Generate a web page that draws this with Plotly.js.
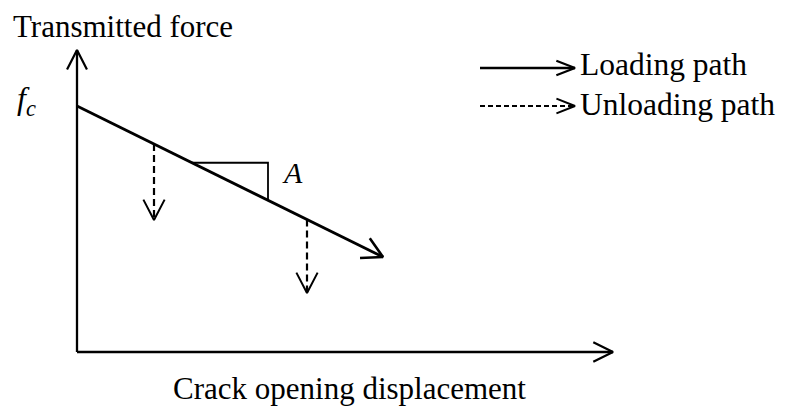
<!DOCTYPE html>
<html>
<head>
<meta charset="utf-8">
<script src="https://cdn.plot.ly/plotly-3.0.1.min.js"></script>
<style>html,body{margin:0;padding:0;background:#fff}#chart{width:788px;height:408px}</style>
</head>
<body>
<div id="chart"></div>
<script>
// Schematic values (origin at the axes corner, arbitrary units)
var fc = 246;                       // intercept on force axis
var loadingX = [0, 306];            // loading path
var loadingY = [fc, 95];
var unloadX = [77, 230];            // positions where unloading starts
var unloadEndY = [132, 59];         // unloading end force
var slopeX = [115, 191];            // slope triangle horizontal extent
var axisMaxX = 536;                 // length of displacement axis
var axisMaxY = 302;                 // length of force axis
var legendX = [403, 498];           // legend sample lines
var legendY = [284, 246];
var labels = {
  yTitle: "Transmitted force",
  xTitle: "Crack opening displacement",
  fc: "<i>f<sub>c</sub></i>",
  slope: "<i>A</i>",
  loading: "Loading path",
  unloading: "Unloading path"
};

function lineY(x) {
  return loadingY[0] + (loadingY[1] - loadingY[0]) * (x - loadingX[0]) / (loadingX[1] - loadingX[0]);
}
// open "V" arrowhead at (x1,y1) pointing from (x0,y0)
function head(x0, y0, x1, y1, len, ang) {
  var dx = x0 - x1, dy = y0 - y1, d = Math.sqrt(dx*dx + dy*dy);
  dx /= d; dy /= d;
  var c = Math.cos(ang), s = Math.sin(ang);
  var ax = x1 + len * (dx*c - dy*s), ay = y1 + len * (dx*s + dy*c);
  var bx = x1 + len * (dx*c + dy*s), by = y1 + len * (-dx*s + dy*c);
  return {x: [ax, x1, bx], y: [ay, y1, by]};
}
var traces = [];
function addLine(x, y, w, dash) {
  traces.push({x: x, y: y, mode: "lines", type: "scatter", hoverinfo: "skip",
    line: {color: "#000", width: w, dash: dash || "solid"}, showlegend: false});
}
// axes
addLine([0, 0], [0, axisMaxY], 2.3);
var h = head(0, 0, 0, axisMaxY, 22, 0.47); addLine(h.x, h.y, 2.2);
addLine([0, axisMaxX], [0, 0], 2.3);
h = head(0, 0, axisMaxX, 0, 22, 0.46); addLine(h.x, h.y, 2.2);
// loading path
addLine(loadingX, loadingY, 2.8);
h = head(loadingX[0], loadingY[0], loadingX[1], loadingY[1], 23, 0.5); addLine(h.x, h.y, 2.6);
// unloading paths
for (var i = 0; i < unloadX.length; i++) {
  addLine([unloadX[i], unloadX[i]], [lineY(unloadX[i]), unloadEndY[i]], 2.2, "7px,4px");
  h = head(unloadX[i], lineY(unloadX[i]), unloadX[i], unloadEndY[i], 23, 0.48);
  addLine(h.x, h.y, 2.0);
}
// slope triangle
var topY = lineY(slopeX[0]);
addLine([slopeX[0], slopeX[1], slopeX[1]], [topY, topY, lineY(slopeX[1])], 1.8);
// legend samples
addLine(legendX, [legendY[0], legendY[0]], 2.4);
h = head(legendX[0], legendY[0], legendX[1], legendY[0], 20, 0.37); addLine(h.x, h.y, 2.2);
addLine(legendX, [legendY[1], legendY[1]], 1.8, "5px,3px");
h = head(legendX[0], legendY[1], legendX[1], legendY[1], 20, 0.38); addLine(h.x, h.y, 2.0);

var font = {family: "Liberation Serif, Times New Roman, serif", size: 31, color: "#000"};
function ann(text, x, y, size) {
  return {text: text, x: x, y: y, xref: "x", yref: "y", showarrow: false,
    xanchor: "left", yanchor: "middle", font: Object.assign({}, font, {size: size || 31})};
}
var layout = {
  width: 788, height: 408,
  margin: {l: 0, r: 0, t: 0, b: 0},
  paper_bgcolor: "#fff", plot_bgcolor: "#fff",
  xaxis: {range: [-77, 711], visible: false, fixedrange: true},
  yaxis: {range: [-56, 352], visible: false, fixedrange: true},
  showlegend: false,
  annotations: [
    ann(labels.yTitle, -66, 326),
    ann(labels.xTitle, 94, -36),
    ann(labels.fc, -62, 252, 32),
    ann(labels.slope, 203, 180, 30),
    ann(labels.loading, 501, 288, 31.5),
    ann(labels.unloading, 501, 248, 31.5)
  ]
};
Plotly.newPlot("chart", traces, layout, {staticPlot: true, displayModeBar: false});
</script>
</body>
</html>
